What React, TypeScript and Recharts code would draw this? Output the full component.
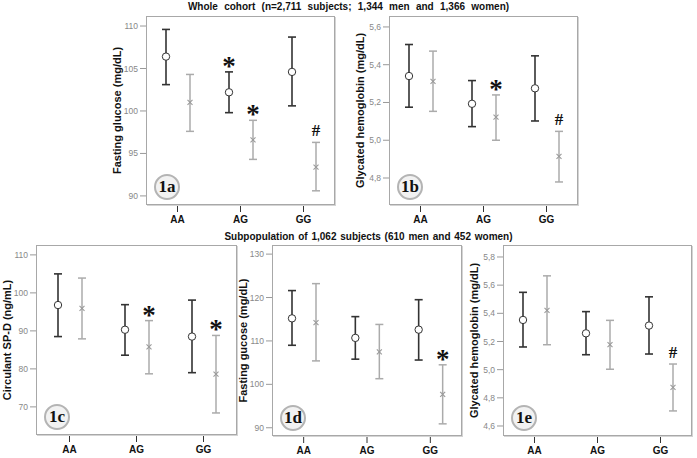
import React from "react";
import { BarChart, Bar, XAxis, YAxis, ErrorBar, LabelList } from "recharts";

const categories = ["AA", "AG", "GG"];

// 1a  fasting glucose, whole cohort
const glucoseMenMean = [106.4, 102.2, 104.6];
const glucoseMenLow = [103.1, 99.8, 100.6];
const glucoseMenHigh = [109.6, 104.6, 108.7];
const glucoseWomenMean = [101.0, 96.6, 93.4];
const glucoseWomenLow = [97.6, 94.3, 90.6];
const glucoseWomenHigh = [104.3, 98.9, 96.3];
const glucoseMenSig = ["", "*", ""];
const glucoseWomenSig = ["", "*", "#"];
const glucoseTicks = [90, 95, 100, 105, 110];

// 1b  glycated hemoglobin, whole cohort
const hbMenMean = [5.34, 5.193, 5.275];
const hbMenLow = [5.175, 5.072, 5.102];
const hbMenHigh = [5.507, 5.316, 5.447];
const hbWomenMean = [5.312, 5.123, 4.914];
const hbWomenLow = [5.153, 5.0, 4.779];
const hbWomenHigh = [5.472, 5.24, 5.047];
const hbMenSig = ["", "", ""];
const hbWomenSig = ["", "*", "#"];
const hbTicks = [4.8, 5.0, 5.2, 5.4, 5.6];

// 1c  circulant SP-D, subpopulation
const spdMenMean = [96.8, 90.3, 88.5];
const spdMenLow = [88.5, 83.6, 79.0];
const spdMenHigh = [105.0, 96.9, 98.1];
const spdWomenMean = [95.9, 85.8, 78.6];
const spdWomenLow = [87.9, 78.7, 68.4];
const spdWomenHigh = [103.9, 92.7, 88.8];
const spdMenSig = ["", "", ""];
const spdWomenSig = ["", "*", "*"];
const spdTicks = [70, 80, 90, 100, 110];

// 1d  fasting glucose, subpopulation
const subGlucoseMenMean = [115.2, 110.7, 112.6];
const subGlucoseMenLow = [109.0, 105.8, 105.6];
const subGlucoseMenHigh = [121.6, 115.6, 119.5];
const subGlucoseWomenMean = [114.2, 107.5, 97.7];
const subGlucoseWomenLow = [105.4, 101.3, 90.9];
const subGlucoseWomenHigh = [123.2, 113.8, 104.5];
const subGlucoseMenSig = ["", "", ""];
const subGlucoseWomenSig = ["", "", "*"];
const subGlucoseTicks = [90, 100, 110, 120, 130];

// 1e  glycated hemoglobin, subpopulation
const subHbMenMean = [5.353, 5.258, 5.313];
const subHbMenLow = [5.161, 5.106, 5.111];
const subHbMenHigh = [5.549, 5.412, 5.517];
const subHbWomenMean = [5.421, 5.177, 4.875];
const subHbWomenLow = [5.177, 5.003, 4.707];
const subHbWomenHigh = [5.666, 5.35, 5.04];
const subHbMenSig = ["", "", ""];
const subHbWomenSig = ["", "", "#"];
const subHbTicks = [4.6, 4.8, 5.0, 5.2, 5.4, 5.6, 5.8];

const Y_AXIS_W = 57;
const X_AXIS_H = 30;
const PAD = 4;

type Series = { mean: number[]; low: number[]; high: number[]; sig: string[] };

type PanelProps = {
  box: { left: number; top: number; width: number; height: number };
  domain: [number, number];
  ticks: number[];
  decimals: number;
  label: string;
  badge: string;
  men: Series;
  women: Series;
};

const NoShape = () => <g />;

// marker at the mean plus the significance sign above the upper whisker
const makeMarker = (s: Series, kind: "men" | "women", yMin: number) => (props: any) => {
  const vb = props.viewBox || props;
  const { x, y, width, height } = vb;
  if (x == null || y == null) return null;
  let i = props.index;
  if (i == null) i = s.mean.indexOf(props.value);
  if (i == null || i < 0) return null;
  const cx = x + width / 2;
  const k = height / (s.mean[i] - yMin);
  const capY = y - (s.high[i] - s.mean[i]) * k;
  const sig = s.sig[i];
  return (
    <g>
      {kind === "men" ? (
        <circle cx={cx} cy={y} r={3.7} fill="#fff" stroke="#333" strokeWidth={1} />
      ) : (
        <g stroke="#9a9a9a" strokeWidth={1.1}>
          <line x1={cx - 2.5} y1={y - 2.5} x2={cx + 2.5} y2={y + 2.5} />
          <line x1={cx - 2.5} y1={y + 2.5} x2={cx + 2.5} y2={y - 2.5} />
        </g>
      )}
      {sig && (
        <text
          x={cx}
          y={sig === "*" ? capY + 3 : capY - 6}
          textAnchor="middle"
          fontFamily="Liberation Serif"
          fontWeight="bold"
          fontSize={sig === "*" ? 27 : 17}
          fill="#111"
        >
          {sig}
        </text>
      )}
    </g>
  );
};

const Panel = ({ box, domain, ticks, decimals, label, badge, men, women }: PanelProps) => {
  const data = categories.map((cat, i) => ({
    cat,
    men: men.mean[i],
    menErr: [men.mean[i] - men.low[i], men.high[i] - men.mean[i]],
    women: women.mean[i],
    womenErr: [women.mean[i] - women.low[i], women.high[i] - women.mean[i]],
  }));
  const fmt = (v: number) => (decimals ? v.toFixed(decimals).replace(".", ",") : String(v));

  return (
    <>
      <div
        style={{
          position: "absolute",
          left: box.left - Y_AXIS_W,
          top: box.top - PAD,
        }}
      >
        <BarChart
          width={box.width + Y_AXIS_W + PAD}
          height={box.height + PAD + X_AXIS_H}
          data={data}
          margin={{ top: PAD, right: PAD, left: 0, bottom: 0 }}
          barGap={14}
        >
          <XAxis
            dataKey="cat"
            height={X_AXIS_H}
            axisLine={false}
            tickSize={7}
            tickMargin={4}
            tickLine={{ stroke: "#333" }}
            tick={{ fontSize: 10, fontWeight: "bold", fill: "#111", fontFamily: "Liberation Sans" }}
          />
          <YAxis
            type="number"
            width={Y_AXIS_W}
            domain={domain}
            allowDataOverflow
            ticks={ticks}
            interval={0}
            tickFormatter={fmt}
            axisLine={false}
            tickSize={6}
            tickMargin={2}
            tickLine={{ stroke: "#999" }}
            tick={{ fontSize: 8.5, fill: "#888", fontFamily: "Liberation Sans" }}
            label={{
              value: label,
              angle: -90,
              position: "center",
              style: { fontSize: 11, fontWeight: "bold", fill: "#111", fontFamily: "Liberation Sans" },
            }}
          />
          <Bar dataKey="men" barSize={10} fill="none" shape={NoShape} isAnimationActive={false}>
            <ErrorBar dataKey="menErr" direction="y" width={4} stroke="#333" strokeWidth={1.6} />
            <LabelList dataKey="men" content={makeMarker(men, "men", domain[0])} />
          </Bar>
          <Bar dataKey="women" barSize={10} fill="none" shape={NoShape} isAnimationActive={false}>
            <ErrorBar dataKey="womenErr" direction="y" width={4} stroke="#ababab" strokeWidth={1.5} />
            <LabelList dataKey="women" content={makeMarker(women, "women", domain[0])} />
          </Bar>
        </BarChart>
      </div>
      <div
        style={{
          position: "absolute",
          left: box.left,
          top: box.top,
          width: box.width,
          height: box.height,
          boxSizing: "border-box",
          border: "1px solid #a8a8a8",
          boxShadow: "1px 1px 0 #d4d4d4",
          pointerEvents: "none",
        }}
      />
      <div
        style={{
          position: "absolute",
          left: box.left + 21 - 13,
          top: box.top + box.height - 18 - 13,
          width: 26,
          height: 26,
          boxSizing: "border-box",
          borderRadius: "50%",
          border: "2px solid #b4b4b4",
          background: "#f2f2f2",
          fontFamily: "Liberation Serif",
          fontWeight: "bold",
          fontSize: 17,
          color: "#111",
          display: "flex",
          alignItems: "center",
          justifyContent: "center",
        }}
      >
        {badge}
      </div>
    </>
  );
};

const titleStyle: React.CSSProperties = {
  position: "absolute",
  width: 697,
  textAlign: "center",
  fontFamily: "Liberation Sans",
  fontWeight: "bold",
  fontSize: 10,
  color: "#111",
  whiteSpace: "nowrap",
};

export default function App() {
  return (
    <div style={{ position: "absolute", left: 0, top: 0, width: 697, height: 458, background: "#fff", overflow: "hidden" }}>
      <div style={{ ...titleStyle, left: 0, top: 1, wordSpacing: 3.5 }}>
        Whole cohort (n=2,711 subjects; 1,344 men and 1,366 women)
      </div>
      <div style={{ ...titleStyle, left: 20, top: 231, wordSpacing: 1 }}>
        Subpopulation of 1,062 subjects (610 men and 452 women)
      </div>
      <Panel
        box={{ left: 146, top: 16, width: 189, height: 189 }}
        domain={[88.93, 111.18]}
        ticks={glucoseTicks}
        decimals={0}
        label="Fasting glucose (mg/dL)"
        badge="1a"
        men={{ mean: glucoseMenMean, low: glucoseMenLow, high: glucoseMenHigh, sig: glucoseMenSig }}
        women={{ mean: glucoseWomenMean, low: glucoseWomenLow, high: glucoseWomenHigh, sig: glucoseWomenSig }}
      />
      <Panel
        box={{ left: 389, top: 16, width: 189, height: 189 }}
        domain={[4.657, 5.658]}
        ticks={hbTicks}
        decimals={1}
        label="Glycated hemoglobin (mg/dL)"
        badge="1b"
        men={{ mean: hbMenMean, low: hbMenLow, high: hbMenHigh, sig: hbMenSig }}
        women={{ mean: hbWomenMean, low: hbWomenLow, high: hbWomenHigh, sig: hbWomenSig }}
      />
      <Panel
        box={{ left: 36, top: 245, width: 201, height: 190 }}
        domain={[62.6, 112.6]}
        ticks={spdTicks}
        decimals={0}
        label="Circulant SP-D (ng/mL)"
        badge="1c"
        men={{ mean: spdMenMean, low: spdMenLow, high: spdMenHigh, sig: spdMenSig }}
        women={{ mean: spdWomenMean, low: spdWomenLow, high: spdWomenHigh, sig: spdWomenSig }}
      />
      <Panel
        box={{ left: 272, top: 245, width: 190, height: 191 }}
        domain={[88.1, 132.1]}
        ticks={subGlucoseTicks}
        decimals={0}
        label="Fasting gucose (mg/dL)"
        badge="1d"
        men={{ mean: subGlucoseMenMean, low: subGlucoseMenLow, high: subGlucoseMenHigh, sig: subGlucoseMenSig }}
        women={{ mean: subGlucoseWomenMean, low: subGlucoseWomenLow, high: subGlucoseWomenHigh, sig: subGlucoseWomenSig }}
      />
      <Panel
        box={{ left: 503, top: 245, width: 189, height: 191 }}
        domain={[4.529, 5.885]}
        ticks={subHbTicks}
        decimals={1}
        label="Glycated hemoglobin (mg/dL)"
        badge="1e"
        men={{ mean: subHbMenMean, low: subHbMenLow, high: subHbMenHigh, sig: subHbMenSig }}
        women={{ mean: subHbWomenMean, low: subHbWomenLow, high: subHbWomenHigh, sig: subHbWomenSig }}
      />
    </div>
  );
}
